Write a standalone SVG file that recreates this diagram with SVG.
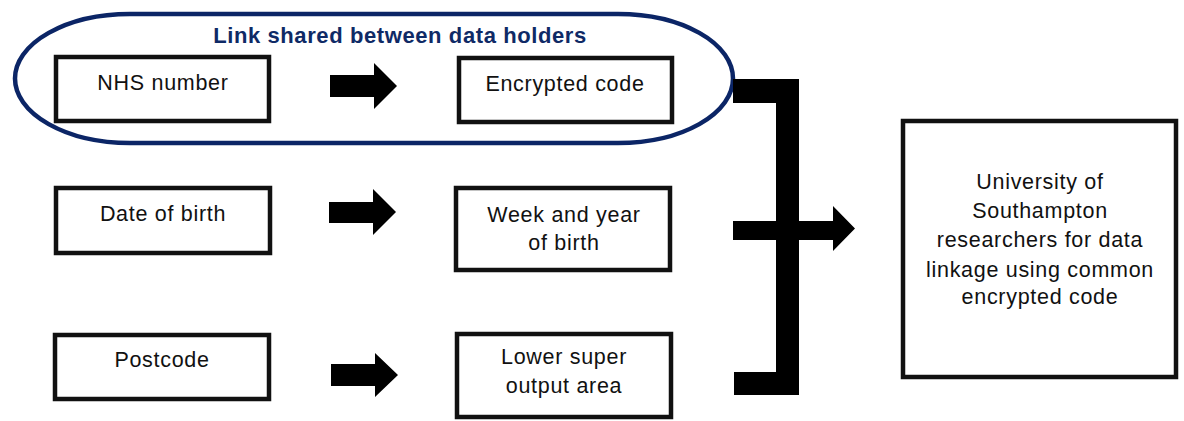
<svg xmlns="http://www.w3.org/2000/svg" width="1184" height="421" viewBox="0 0 1184 421">
<style>
.box{fill:#fff;stroke:#111;stroke-width:4.5}
.t{font-family:"Liberation Sans",Arial,sans-serif;font-size:21.5px;fill:#111;text-anchor:middle;letter-spacing:0.7px}
.arr{fill:#000}
</style>
<rect width="1184" height="421" fill="#fff"/>
<g id="shared-link">
<rect x="15" y="14" width="718" height="129" rx="115" ry="64.5" fill="none" stroke="#0b2566" stroke-width="4.5"/>
<text x="400" y="43" font-family="'Liberation Sans',Arial,sans-serif" font-size="22" font-weight="bold" letter-spacing="0.6" fill="#0f2a66" text-anchor="middle">Link shared between data holders</text>
</g>
<g id="nhs"><rect class="box" x="56" y="57" width="213" height="64"/><text class="t" x="163" y="90">NHS number</text></g>
<g id="encrypted"><rect class="box" x="459" y="58" width="213" height="64"/><text class="t" x="565" y="91">Encrypted code</text></g>
<g id="dob"><rect class="box" x="56" y="188" width="214" height="65"/><text class="t" x="163" y="221">Date of birth</text></g>
<g id="week"><rect class="box" x="456" y="188" width="214" height="82"/><text class="t" x="564" y="222">Week and year</text><text class="t" x="564" y="250">of birth</text></g>
<g id="postcode"><rect class="box" x="55" y="335" width="214" height="64"/><text class="t" x="162" y="367">Postcode</text></g>
<g id="lsoa"><rect class="box" x="457" y="334" width="214" height="83"/><text class="t" x="564" y="364">Lower super</text><text class="t" x="564" y="393">output area</text></g>
<g id="university"><rect class="box" x="903" y="121" width="273" height="256"/>
<text class="t" x="1040" y="189">University of</text>
<text class="t" x="1040" y="218">Southampton</text>
<text class="t" x="1040" y="247">researchers for data</text>
<text class="t" x="1040" y="277">linkage using common</text>
<text class="t" x="1040" y="304">encrypted code</text></g>
<g id="connectors">
<polygon class="arr" points="330,75 374,75 374,63 397,86 374,109 374,97 330,97"/>
<polygon class="arr" points="329,202 373,202 373,189 396,212 373,235 373,223 329,223"/>
<polygon class="arr" points="331,364 375,364 375,353 398,375 375,397 375,386 331,386"/>
<polygon class="arr" points="733,79 799,79 799,221 833,221 833,206 855,228.5 833,251 833,240 799,240 799,395 734,395 734,372 776,372 776,240 733,240 733,221 776,221 776,103 733,103"/>
</g>
</svg>
